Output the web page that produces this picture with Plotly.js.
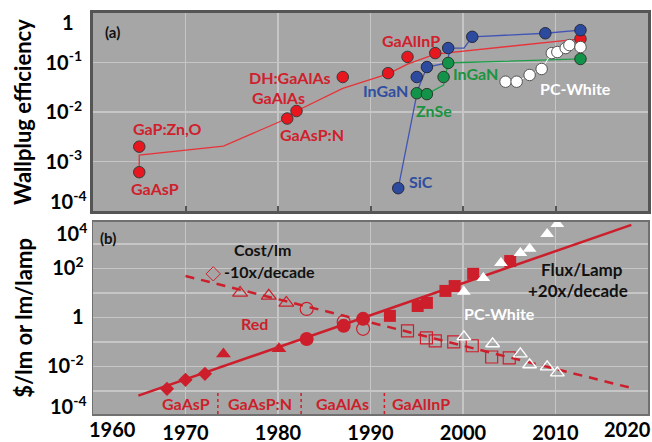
<!DOCTYPE html>
<html><head><meta charset="utf-8">
<script src="https://cdn.plot.ly/plotly-3.0.1.min.js"></script>
<style>html,body{margin:0;padding:0;background:#fff}</style>
</head><body><div id="chart" style="width:652px;height:442px"></div>
<script>
// ---------- Panel (a): wallplug efficiency ----------
const redYears = [1965.0, 1965.0, 1981.0, 1982.0, 1987.0, 1991.9, 1994.0, 1997.0, 2012.7];
const redEff = [6.1e-4, 2.0e-3, 7.4e-3, 0.0105, 0.051, 0.061, 0.13, 0.155, 0.30];
const redTrendYears = [1965.0, 1965.0, 1974.1, 1980.6, 1982.0, 1985.7, 1987.0, 1991.9, 1994.0, 1997.0, 2012.7];
const redTrendEff = [6.1e-4, 1.35e-3, 2.05e-3, 6.9e-3, 0.0105, 0.023, 0.030, 0.059, 0.093, 0.148, 0.30];
const blueYears = [1993.0, 1995.0, 1996.1, 1998.4, 2001.0, 2008.9, 2012.7];
const blueEff = [2.9e-4, 0.051, 0.081, 0.196, 0.33, 0.39, 0.45];
const blueTrendYears = [1993.0, 1995.1, 1996.1, 1998.3, 1998.6, 2000.1, 2001.0, 2008.9, 2012.7];
const blueTrendEff = [2.9e-4, 0.028, 0.081, 0.098, 0.196, 0.196, 0.33, 0.39, 0.45];
const greenYears = [1995.0, 1996.1, 1997.9, 1998.4, 2012.7];
const greenEff = [0.024, 0.023, 0.051, 0.098, 0.118];
const greenTrendYears = [1995.0, 1996.1, 1997.9, 1998.4, 1999.9, 2012.7];
const greenTrendEff = [0.024, 0.023, 0.035, 0.098, 0.10, 0.118];
const whiteYears = [2004.6, 2005.8, 2007.2, 2008.5, 2009.6, 2010.2, 2011.1, 2011.5, 2012.7];
const whiteEff = [0.041, 0.041, 0.056, 0.074, 0.155, 0.163, 0.196, 0.225, 0.205];

// ---------- Panel (b): $/lm and lm/lamp ----------
const fluxDiamondYears = [1968.0, 1970.0, 1972.1];
const fluxDiamond = [1.2e-3, 2.8e-3, 4.9e-3];
const fluxTriYears = [1974.1, 1980.1];
const fluxTri = [0.032, 0.052];
const fluxCircleYears = [1983.1, 1987.1, 1989.2];
const fluxCircle = [0.13, 0.45, 0.87];
const fluxSquareYears = [1992.1, 1995.1, 1996.1, 1998.1, 1999.1, 2001.1, 2005.1];
const fluxSquare = [1.15, 2.9, 3.9, 12, 19, 60, 200];
const whiteFluxYears = [2000.1, 2002.2, 2004.1, 2006.2, 2007.2, 2009.1, 2010.2];
const whiteFlux = [11, 41, 167, 430, 630, 2560, 6600];

const costDiamondYears = [1973.0];
const costDiamond = [60];
const costTriYears = [1975.9, 1979.0, 1980.9];
const costTri = [10, 7.6, 3.9];
const costCircleYears = [1983.1, 1987.1, 1989.2];
const costCircle = [2.2, 0.66, 0.34];
const costSquareYears = [1994.0, 1996.05, 1997.0, 1999.0, 2001.0, 2003.1, 2005.0];
const costSquare = [0.28, 0.146, 0.11, 0.1, 0.069, 0.024, 0.022];
const whiteCostYears = [2000.1, 2003.2, 2006.2, 2007.2, 2009.1, 2010.2];
const whiteCost = [0.16, 0.083, 0.032, 0.0115, 0.0095, 0.0054];

const fluxTrendYears = [1964.9, 2018.2];
const fluxTrend = [6.3e-4, 6000];
const costTrendYears = [1970.0, 2018.2];
const costTrend = [49, 1.3e-3];

const separatorYears = [1973.5, 1982.5, 1991.5];
const xTickVals = [1970, 1980, 1990, 2000, 2010];
const xTickText = ['1970', '1980', '1990', '2000', '2010'];
const bLabelVals = [1e-2, 1, 100];
const bLabelText = ['10<sup>-2</sup>', '1', '10<sup>2</sup>'];
const bGridVals = [1e-3, 1e-1, 10, 1000];
const aTickVals = [1e-3, 1e-2, 1e-1];
const aTickText = ['10<sup>-3</sup>', '10<sup>-2</sup>', '10<sup>-1</sup>'];

// ---------- styling ----------
const FONT = 'Lato, "Open Sans", "DejaVu Sans", sans-serif';
const RED = '#e8161f', RED_LINE = '#e8333a', BLUE = '#2c4a9e', BLUE_LINE = '#4255b5';
const GREEN = '#13924a', GREEN_LINE = '#1f9e4a', BRED = '#cc1f2b';
const TRED = '#d0202c', TBLUE = '#2f4ea0', TGREEN = '#1a9440';

function line(x, y, color, w, ax, dash) {
  return {x, y, type:'scatter', mode:'lines', xaxis:ax[0], yaxis:ax[1],
    line:{color, width:w, dash:dash||'solid'}, hoverinfo:'skip'};
}
function pts(x, y, symbol, size, fill, lc, lw, ax) {
  return {x, y, type:'scatter', mode:'markers', xaxis:ax[0], yaxis:ax[1],
    marker:{symbol, size, color:fill, line:{color:lc, width:lw}}};
}
const A = ['x2','y2'], B = ['x','y'];

const traces = [
  line(redTrendYears, redTrendEff, RED_LINE, 1.3, A),
  line(blueTrendYears, blueTrendEff, BLUE_LINE, 1.3, A),
  line(greenTrendYears, greenTrendEff, GREEN_LINE, 1.3, A),
  line(whiteYears, whiteEff, '#ffffff', 1, A),
  pts(redYears, redEff, 'circle', 11.5, RED, '#3a3a3a', 1, A),
  pts(blueYears, blueEff, 'circle', 11.5, BLUE, '#2a2a3a', 1, A),
  pts(greenYears, greenEff, 'circle', 11.5, GREEN, '#2a3a2a', 1, A),
  pts(whiteYears, whiteEff, 'circle', 11.5, '#ffffff', '#555555', 1, A),

  line(costTrendYears, costTrend, BRED, 2.5, B, '9px,7px'),
  line(fluxTrendYears, fluxTrend, BRED, 2.5, B),
  pts(costDiamondYears, costDiamond, 'diamond-open', 11, BRED, BRED, 1, B),
  pts(costTriYears, costTri, 'triangle-up-open', 13, BRED, BRED, 1.2, B),
  pts(costCircleYears, costCircle, 'circle-open', 13, BRED, BRED, 1.2, B),
  pts(costSquareYears, costSquare, 'square-open', 12, BRED, BRED, 1.2, B),
  pts(whiteCostYears, whiteCost, 'triangle-up-open', 12, '#ffffff', '#ffffff', 1.4, B),
  pts(fluxDiamondYears, fluxDiamond, 'diamond', 11, BRED, BRED, 0, B),
  pts(fluxTriYears, fluxTri, 'triangle-up', 13, BRED, BRED, 0, B),
  pts(fluxCircleYears, fluxCircle, 'circle', 14, BRED, BRED, 0, B),
  pts(fluxSquareYears, fluxSquare, 'square', 12, BRED, BRED, 0, B),
  pts(whiteFluxYears, whiteFlux, 'triangle-up', 12, '#ffffff', '#ffffff', 0, B)
];

// pixel -> paper helpers for text placement
const L = 93, PW = 555, BOT = 414, PH = 401;
const px = v => (v - L) / PW;
const py = v => (BOT - v) / PH;
function ann(text, x, y, color, size, xanchor) {
  return {text, x:px(x), y:py(y), xref:'paper', yref:'paper', showarrow:false,
    xanchor:xanchor||'center', yanchor:'middle',
    font:{family:FONT, size:size||16, color, weight:'bold'}};
}
const annotations = [
  ann('(a)', 112, 32, '#111', 15),
  ann('GaP:Zn,O', 167, 128, TRED),
  ann('GaAsP', 155, 188, TRED),
  ann('DH:GaAlAs', 290, 77, TRED),
  ann('GaAlAs', 278, 97, TRED),
  ann('GaAsP:N', 312, 134, TRED),
  ann('GaAlInP', 411, 40, TRED),
  ann('InGaN', 385, 90, TBLUE),
  ann('ZnSe', 434, 110, TGREEN),
  ann('InGaN', 476, 73, TGREEN),
  ann('PC-White', 575, 89, '#ffffff'),
  ann('SiC', 421, 181, TBLUE),

  ann('(b)', 108, 238, '#111', 15),
  ann('Cost/lm', 262, 249, '#111', 16),
  ann('-10x/decade', 269, 271, '#111', 16),
  ann('Red', 254, 323, BRED),
  ann('Flux/Lamp', 582, 269, '#111', 17),
  ann('+20x/decade', 578, 290, '#111', 17),
  ann('PC-White', 499, 313, '#ffffff'),
  ann('GaAsP', 186, 403, BRED),
  ann('GaAsP:N', 260, 403, BRED),
  ann('GaAlAs', 342, 403, BRED),
  ann('GaAlInP', 421, 403, BRED),

  ann('1960', 112, 429, '#000', 20),
  ann('2020', 627, 429, '#000', 20),
  ann('1', 76, 22, '#000', 20, 'right'),
  ann('10<sup>-4</sup>', 89, 200, '#000', 20, 'right'),
  ann('10<sup>4</sup>', 89, 232, '#000', 20, 'right'),
  ann('10<sup>-4</sup>', 89, 405, '#000', 20, 'right')
];

const shapes = separatorYears.map(yr => ({
  type:'line', xref:'x', yref:'y domain', x0:yr, x1:yr, y0:0, y1:0.12,
  line:{color:BRED, width:1.5, dash:'3px,3px'}
}));

const tickFont = {family:FONT, size:20, color:'#000', weight:'bold'};
const titleFont = {family:FONT, size:22, color:'#000', weight:'bold'};
const GRID = '#c6c6c6';
const layout = {
  width:652, height:442,
  margin:{l:L, r:4, t:13, b:28, autoexpand:false},
  paper_bgcolor:'#ffffff', plot_bgcolor:'#a6a6a6',
  showlegend:false,
  font:{family:FONT, color:'#000'},
  xaxis:{domain:[0,1], anchor:'y', range:[1960,2020], tickvals:xTickVals, ticktext:xTickText,
    showgrid:true, gridcolor:GRID, gridwidth:1.5, zeroline:false,
    showline:true, mirror:true, linecolor:'#707070', linewidth:1.5,
    ticks:'', tickfont:tickFont, automargin:false},
  yaxis:{domain:[0,0.479], anchor:'x', type:'log', range:[-3.95,3.9],
    tickvals:bLabelVals, ticktext:bLabelText,
    minor:{tickmode:'array', tickvals:bGridVals, showgrid:true, gridcolor:GRID, gridwidth:1.5, ticks:''},
    showgrid:true, gridcolor:GRID, gridwidth:1.5, zeroline:false,
    showline:true, mirror:true, linecolor:'#707070', linewidth:1.5,
    ticks:'outside', ticklen:4, tickcolor:'rgba(0,0,0,0)', tickfont:tickFont, automargin:false,
    title:{text:'$/lm or lm/lamp', font:titleFont, standoff:8}},
  xaxis2:{domain:[0,1], anchor:'y2', range:[1960,2020], tickvals:xTickVals, showticklabels:false,
    showgrid:true, gridcolor:GRID, gridwidth:1.5, zeroline:false,
    showline:true, mirror:true, linecolor:'#555555', linewidth:3,
    ticks:'inside', ticklen:5, tickwidth:2, tickcolor:'#555555', automargin:false},
  yaxis2:{domain:[0.506,1], anchor:'x2', type:'log', range:[-4,0],
    tickvals:aTickVals, ticktext:aTickText,
    showgrid:true, gridcolor:GRID, gridwidth:1.5, zeroline:false,
    showline:true, mirror:true, linecolor:'#555555', linewidth:3,
    ticks:'outside', ticklen:4, tickcolor:'rgba(0,0,0,0)', tickfont:tickFont, automargin:false,
    title:{text:'Wallplug efficiency', font:titleFont, standoff:8}},
  annotations, shapes
};

Plotly.newPlot('chart', traces, layout, {staticPlot:true, displayModeBar:false});
</script>
</body></html>
